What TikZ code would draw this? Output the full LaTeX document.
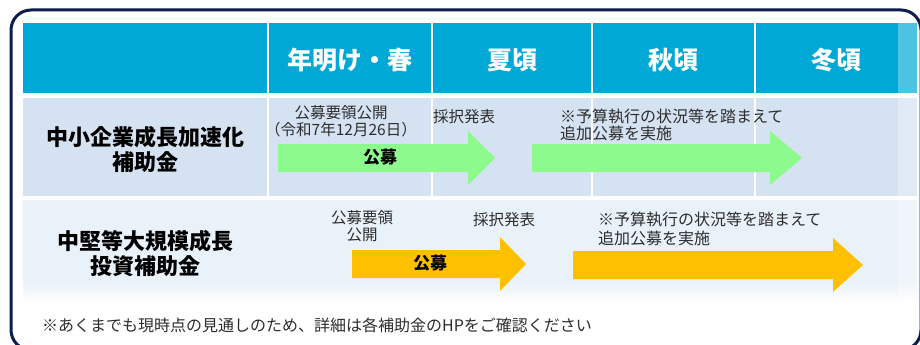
\documentclass[tikz,border=0pt]{standalone}
\usepackage{fontspec}
\setmainfont{Noto Sans CJK JP}
\usetikzlibrary{calc}
\usetikzlibrary{positioning}

\definecolor{headcyan}{RGB}{0,168,214}
\definecolor{rowblue}{RGB}{213,226,241}
\definecolor{rowpale}{RGB}{233,241,249}
\definecolor{framenavy}{RGB}{12,28,78}
\definecolor{arrowgreen}{RGB}{140,250,140}
\definecolor{arroworange}{RGB}{255,192,0}
\definecolor{notegray}{RGB}{45,45,45}

\begin{document}
\begin{tikzpicture}[x=1pt,y=-1pt,every node/.style={inner sep=0pt},
  seasonhead/.style={text=white,font=\fontsize{25}{28}\selectfont\bfseries},
  fundname/.style={align=center,font=\fontsize{22}{25}\selectfont\bfseries},
  smallnote/.style={text=notegray,font=\fontsize{15.5}{17}\selectfont},
  callname/.style={font=\fontsize{17}{20}\selectfont\bfseries}]

\useasboundingbox[fill=white] (0,0) rectangle (920,345);
\draw[framenavy,line width=3pt,rounded corners=20pt] (11,10) rectangle (921,350);

\fill[headcyan] (23,23) rectangle (917,93);
\fill[rowblue] (23,98) rectangle (917,196);
\fill[rowpale] (23,200) rectangle (917,282);
\shade[top color=rowpale,bottom color=white] (23,281) rectangle (917,302);
\fill[white,opacity=.3] (898,23) rectangle (917,300);
\foreach \x in {268,432,592,755} \draw[white,line width=1.5pt] (\x,23) -- (\x,196);

\node[seasonhead] (spring) at ($(268,60)!0.5!(432,60)$) {年明け・春};
\node[seasonhead] (summer) at ($(432,60)!0.5!(592,60)$) {夏頃};
\node[seasonhead] (autumn) at ($(592,60)!0.5!(755,60)$) {秋頃};
\node[seasonhead] (winter) at ($(755,60)!0.5!(917,60)$) {冬頃};

\node[fundname] (sme) at (145,149) {中小企業成長加速化\\補助金};
\node[fundname] (large) at (145,253) {中堅等大規模成長\\投資補助金};

\foreach \tail/\base/\tip/\mid/\col in {278/468/495/158/arrowgreen,532/770/802/158/arrowgreen,352/500/526/264/arroworange,573/833/863/265/arroworange}
  \fill[\col] (\tail,\mid-14) -- (\base,\mid-14) -- (\base,\mid-27) -- (\tip,\mid) -- (\base,\mid+27) -- (\base,\mid+14) -- (\tail,\mid+14) -- cycle;

\node[callname] (call1) at (380,157) {公募};
\node[callname] (call2) at (430,263) {公募};

\node[smallnote,align=center] (pub1) at (341,121) {公募要領公開\\（令和7年12月26日）};
\node[smallnote,anchor=west] (sel1) at (433,117) {採択発表};
\node[smallnote,font=\fontsize{16}{17}\selectfont,align=left,anchor=west] (extra1) at (560,125) {※予算執行の状況等を踏まえて\\追加公募を実施};

\node[smallnote,align=center] (pub2) at (362,226) {公募要領\\公開};
\node[smallnote,anchor=west] (sel2) at (473,220) {採択発表};
\node[smallnote,font=\fontsize{16}{19}\selectfont,align=left,anchor=west] (extra2) at (598,229) {※予算執行の状況等を踏まえて\\追加公募を実施};

\node[smallnote,font=\fontsize{16}{18}\selectfont,anchor=west] (remark) at (42,325) {※あくまでも現時点の見通しのため、詳細は各補助金のHPをご確認ください};
\end{tikzpicture}
\end{document}
